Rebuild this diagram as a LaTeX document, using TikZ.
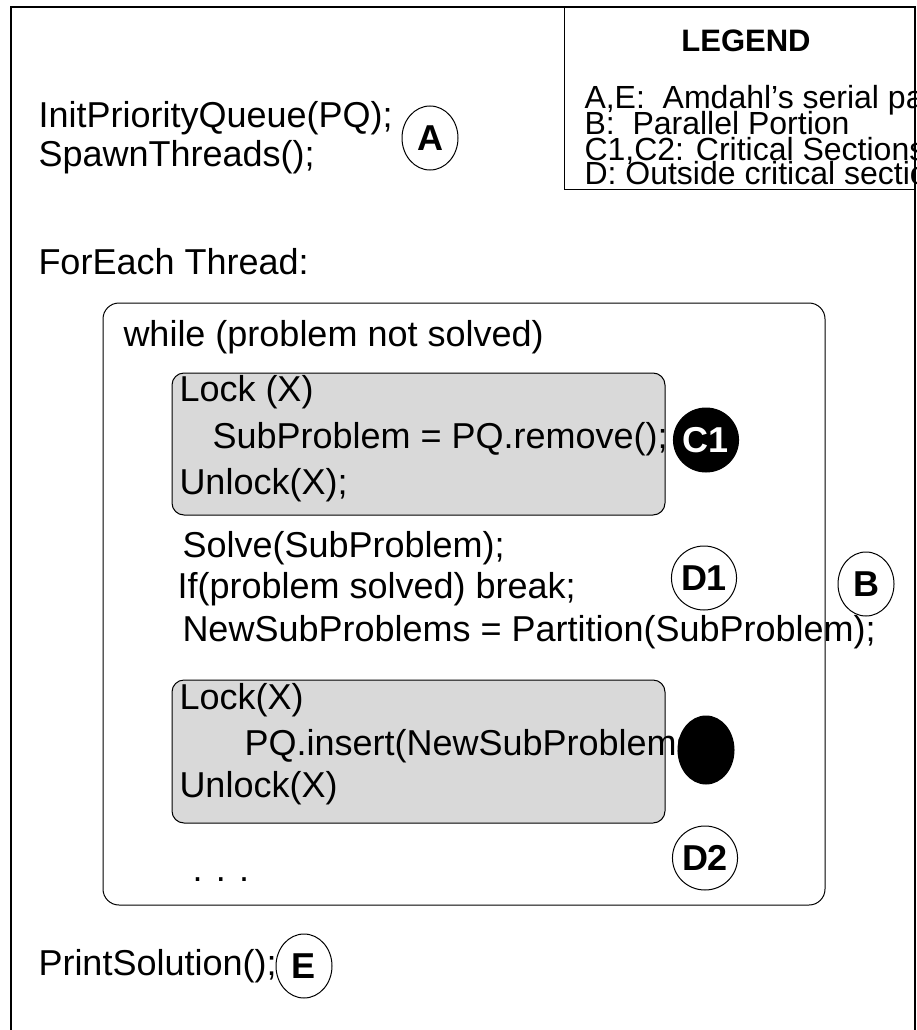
\documentclass[tikz,border=0pt]{standalone}
\usepackage{fontspec}
\setmainfont{Liberation Sans}
\usetikzlibrary{shapes.geometric}

\tikzset{
  code/.style={anchor=west, inner sep=0pt, font=\fontsize{36}{40}\selectfont},
  tag/.style={draw, ellipse, minimum width=56pt, minimum height=64pt, inner sep=0pt,
    font=\fontsize{36}{38}\selectfont\bfseries},
  blacktag/.style={tag, fill=black, text=white},
  lockbox/.style={draw, fill=black!15, rounded corners=12pt},
  legendtext/.style={anchor=base west, inner sep=0pt, text height=19pt, text depth=3pt,
    font=\fontsize{32}{27}\selectfont},
}

\begin{document}
\begin{tikzpicture}[x=1pt, y=-1pt, line width=1pt]
    \useasboundingbox (0,0) rectangle (916,1030);
    \clip (0,0) rectangle (916,1030);

    % Page frame and legend
    \draw[line width=1.5pt] (11,7) rectangle (915,1045);
    \draw (564,7) rectangle (915,189);
    \node[font=\fontsize{31}{34}\selectfont\bfseries] (legend) at (746,41) {LEGEND};
    \node[legendtext] (keyA) at (584,109) {A,E:~~Amdahl’s serial part};
    \node[legendtext] (keyB) at (584,135) {B:~~Parallel Portion};
    \node[legendtext] (keyC) at (584,160) {C1,C2: Critical Sections};
    \node[legendtext] (keyD) at (584,184) {D: Outside critical sections};

    % Serial start
    \node[code] (init) at (38,118) {InitPriorityQueue(PQ);};
    \node[code] (spawn) at (38,157) {SpawnThreads();};
    \node[tag] (A) at (430,138) {A};
    \node[code] (foreach) at (38,262) {ForEach Thread:};

    % Thread loop
    \draw[rounded corners=16pt] (103,303) rectangle (825,905);
    \node[code] (while) at (123,337) {while (problem not solved)};

    % First critical section
    \draw[lockbox] (172,373) rectangle (665,515);
    \node[code] (lock1) at (179,392) {Lock (X)};
    \node[code] (remove) at (212,439) {SubProblem = PQ.remove();};
    \node[code] (unlock1) at (179,485) {Unlock(X);};
    \node[blacktag] (C1) at (706,440) {C1};

    % Work outside the locks
    \node[code] (solve) at (182,548) {Solve(SubProblem);};
    \node[code] (check) at (177,589) {If(problem solved) break;};
    \node[code] (split) at (182,632) {NewSubProblems = Partition(SubProblem);};
    \node[tag] (D1) at (704,578) {D1};
    \node[tag] (B) at (866,584) {B};

    % Second critical section
    \draw[lockbox] (172,680) rectangle (665,823);
    \node[code] (lock2) at (179,700) {Lock(X)};
    \node[code] (insert) at (244,746) {PQ.insert(NewSubProblems};
    \node[code] (unlock2) at (179,788) {Unlock(X)};
    \node[blacktag, minimum height=68pt] (C2) at (706,750) {};

    \node[tag] (D2) at (705,858) {D2};
    \node[code] (dots) at (192,880) {. . .};

    % Serial end
    \node[code] (print) at (38,966) {PrintSolution();};
    \node[tag] (E) at (304,966) {E};
\end{tikzpicture}
\end{document}
